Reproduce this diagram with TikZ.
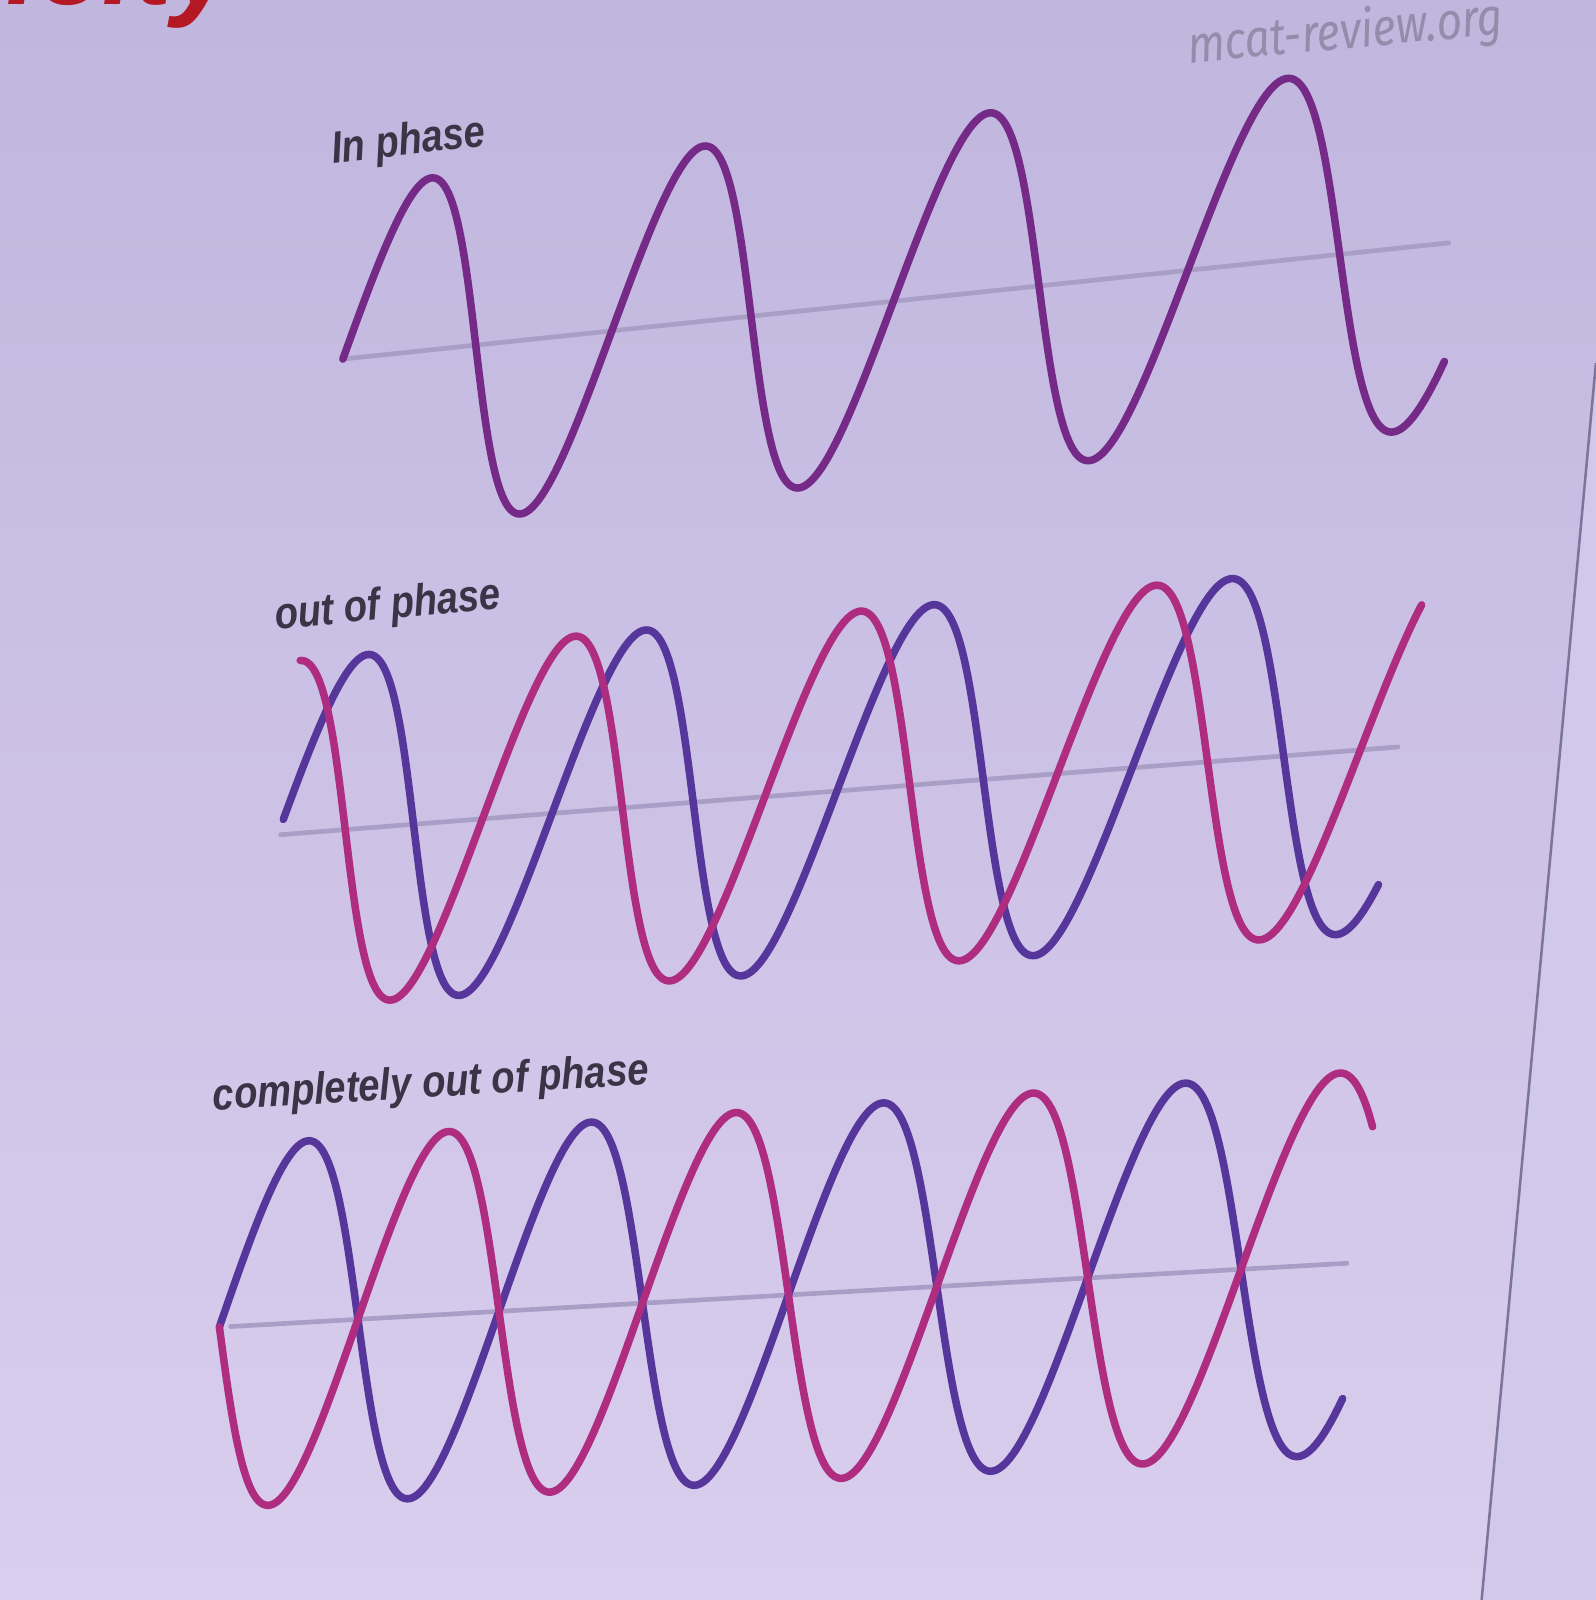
\documentclass[tikz,border=0pt]{standalone}
\usepackage{fontspec}
\newfontfamily\labfont{Liberation Sans}
\newfontfamily\wmfont{Fira Sans}
\definecolor{bgtop}{RGB}{192,182,222}
\definecolor{bgbot}{RGB}{218,206,238}
\definecolor{rightbg}{RGB}{208,201,235}
\definecolor{edgecol}{RGB}{125,115,155}
\definecolor{inph}{RGB}{118,42,135}
\definecolor{purp}{RGB}{86,54,155}
\definecolor{pinkw}{RGB}{175,45,128}
\definecolor{axiscol}{RGB}{168,158,198}
\definecolor{labcol}{RGB}{58,52,70}
\definecolor{wmcol}{RGB}{148,140,170}
\definecolor{redcol}{RGB}{180,25,35}
\begin{document}
\begin{tikzpicture}[x=0.01cm,y=-0.01cm,
  wave/.style={line width=2.1pt,line join=round,line cap=round},
  axisline/.style={line width=1.3pt,draw=axiscol,line cap=round},
  lbl/.style={font=\labfont\bfseries\itshape\fontsize{12.5}{14}\selectfont,text=labcol,inner sep=0pt,anchor=base west,xscale=0.85},
  wm/.style={font=\wmfont\itshape\fontsize{14.5}{17}\selectfont,text=wmcol,inner sep=0pt,anchor=base west,xscale=0.85},
  ttl/.style={font=\labfont\bfseries\itshape\fontsize{32}{34}\selectfont,text=redcol,inner sep=0pt,anchor=base west}]
\useasboundingbox (0,0) rectangle (1564,1568);
\clip (0,0) rectangle (1564,1568);
\shade[top color=bgtop,bottom color=bgbot] (0,0) rectangle (1564,1568);
\fill[rightbg] (1564,356) -- (1452,1568) -- (1564,1568) -- cycle;
\draw[edgecol,line width=0.7pt] (1564,356) -- (1452,1568);

% fragment of the red title, cut by the top edge
\node[ttl] (title) at (6,4) {icity};

% watermark
\node[rotate=5.3,wm] (wmark) at (1165,62) {mcat-review.org};

% labels
\node[rotate=6.5,lbl] (inphase) at (326,160) {In phase};
\node[rotate=5.4,lbl] (outphase) at (270,617) {out of phase};
\node[rotate=3.4,lbl] (complout) at (209,1088) {completely out of phase};

% panel 1: in phase
\coordinate (a1s) at (335,352);
\coordinate (a1e) at (1420,238);
\draw[axisline] (a1s) -- (a1e);
\begin{scope}[declare function={xa(\t)=336+128.7*(\t/180)+1.55*(\t/180)*(\t/180); am(\t)=170+1.6*(\t/180);}]
\draw[wave,inph] plot[domain=0:1400,samples=400,variable=\t]
  ({xa(\t)+0.13*am(\t)*sin(\t)},{352-0.105*(xa(\t)-335)-am(\t)*sin(\t)});
\end{scope}

% panel 2: out of phase
\coordinate (a2s) at (275,818);
\coordinate (a2e) at (1370,732);
\draw[axisline] (a2s) -- (a2e);
\begin{scope}[declare function={xb(\t)=272+132*(\t/180)+1.265*(\t/180)*(\t/180); bm(\t)=171+1.33*(\t/180);}]
\draw[wave,purp] plot[domain=5:1392,samples=400,variable=\t]
  ({xb(\t)+0.13*bm(\t)*sin(\t)},{818-0.0785*(xb(\t)-275)-bm(\t)*sin(\t)});
\draw[wave,pinkw] plot[domain=0:1400,samples=400,variable=\t]
  ({xb(\t)+0.13*bm(\t)*sin(\t+90)},{818-0.0785*(xb(\t)-275)-bm(\t)*sin(\t+90)});
\end{scope}

% panel 3: completely out of phase
\coordinate (a3s) at (226,1300);
\coordinate (a3e) at (1320,1238);
\draw[axisline] (a3s) -- (a3e);
\begin{scope}[declare function={xc(\t)=215+134.6*(\t/180)+1.204*(\t/180)*(\t/180); cam(\t)=178+1.33*(\t/180);}]
\draw[wave,purp] plot[domain=0:1395,samples=400,variable=\t]
  ({xc(\t)+0.11*cam(\t)*sin(\t)},{1300-0.0565*(xc(\t)-222)-cam(\t)*sin(\t)});
\draw[wave,pinkw] plot[domain=0:1395,samples=400,variable=\t]
  ({xc(\t)-0.11*cam(\t)*sin(\t)},{1300-0.0565*(xc(\t)-222)+cam(\t)*sin(\t)});
\end{scope}
\end{tikzpicture}
\end{document}
